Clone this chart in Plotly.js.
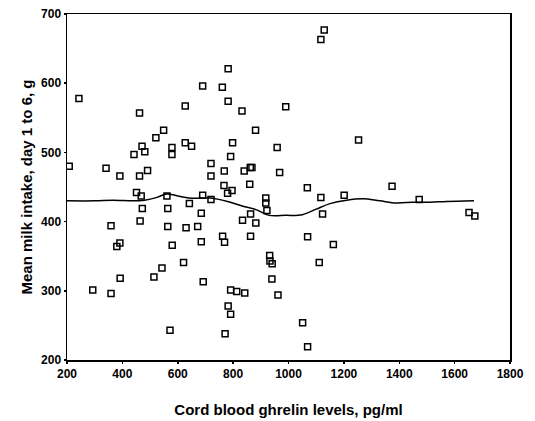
<!DOCTYPE html>
<html>
<head>
<meta charset="utf-8">
<script src="https://cdn.plot.ly/plotly-3.0.1.min.js"></script>
<style>html,body{margin:0;padding:0;background:#fff;}#chart{width:535px;height:421px;}</style>
</head>
<body>
<div id="chart"></div>
<script>
// Scatter: cord blood ghrelin (pg/ml) vs mean milk intake day 1 to 6 (g)
var ghrelin = [208,243,293,341,359,359,380,391,391,392,442,451,462,462,464,468,471,472,481,491,
  514,521,543,549,561,564,564,572,579,579,580,621,627,627,630,642,650,672,685,685,
  690,690,692,720,720,720,761,762,767,768,769,771,780,782,782,782,791,791,791,796,
  798,813,832,834,840,842,860,862,868,863,863,881,882,918,918,922,932,933,941,940,
  959,962,968,990,1051,1068,1069,1069,1111,1117,1117,1123,1129,1162,1201,1253,1374,1472,1652,1673];
var milk = [480,578,301,477,394,296,364,369,466,318,497,442,557,466,401,437,509,419,501,474,
  320,521,333,532,437,419,393,243,507,497,366,341,567,514,391,426,509,393,412,371,
  596,438,313,484,466,432,594,379,452,473,370,238,441,621,574,278,494,266,301,445,
  514,299,560,402,473,297,454,478,478,411,379,532,398,434,427,416,351,343,339,317,
  507,294,471,566,254,449,378,219,341,663,435,411,677,367,438,518,451,432,413,408];
// Smoothed (loess-like) curve
var smoothX = [200,300,365,440,480,525,560,600,640,680,720,780,830,885,930,990,1050,1100,1150,1210,1270,1330,1390,1450,1510,1570,1670];
var smoothY = [430,430,431,430,431,435,440,437,434,434,434,429,423,417,409,409,410,418,426,431,433,430,427,428,428,429,430];
var xTicks = [200,400,600,800,1000,1200,1400,1600,1800];
var yTicks = [200,300,400,500,600,700];

var tickFont = {family: 'Liberation Sans, Arial, sans-serif', size: 12, color: '#000', weight: 'bold'};
var titleFont = {family: 'Liberation Sans, Arial, sans-serif', size: 15, color: '#000', weight: 'bold'};

Plotly.newPlot('chart', [
  {x: ghrelin, y: milk, type: 'scatter', mode: 'markers',
   marker: {symbol: 'square-open', size: 6, color: '#000', line: {width: 1.5, color: '#000'}},
   hoverinfo: 'x+y', showlegend: false},
  {x: smoothX, y: smoothY, type: 'scatter', mode: 'lines',
   line: {color: '#000', width: 1.5, shape: 'spline', smoothing: 1}, showlegend: false}
], {
  width: 535, height: 421,
  margin: {l: 67, r: 25, t: 14, b: 61},
  paper_bgcolor: '#fff', plot_bgcolor: '#fff',
  font: tickFont,
  xaxis: {range: [200, 1800], tickvals: xTicks, ticktext: xTicks.map(String),
    showgrid: false, zeroline: false, showline: true, mirror: true, linecolor: '#000', linewidth: 1.5,
    ticks: 'outside', ticklen: 2, tickwidth: 1.5, tickcolor: '#000', tickfont: tickFont,
    title: {text: 'Cord blood ghrelin levels, pg/ml', font: titleFont, standoff: 24}},
  yaxis: {range: [200, 700], tickvals: yTicks, ticktext: yTicks.map(String),
    showgrid: false, zeroline: false, showline: true, mirror: true, linecolor: '#000', linewidth: 1.5,
    ticks: 'outside', ticklen: 2, tickwidth: 1.5, tickcolor: '#000', tickfont: tickFont,
    title: {text: 'Mean milk intake, day 1 to 6, g', font: titleFont, standoff: 5}}
}, {displayModeBar: false, staticPlot: true});
</script>
</body>
</html>
